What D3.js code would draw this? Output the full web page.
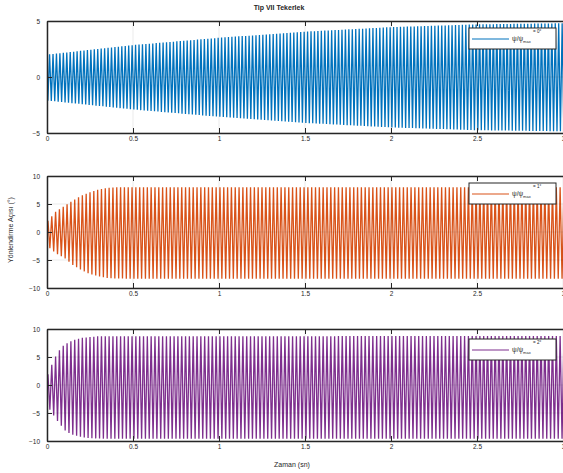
<!DOCTYPE html>
<html lang="tr">
<head>
<meta charset="UTF-8">
<title>Tip VII Tekerlek</title>
<script src="https://cdn.jsdelivr.net/npm/d3@7"></script>
<style>
  body { margin: 0; background: #fff; }
  text { font-family: "Liberation Sans", Arial, sans-serif; fill: #262626; }
</style>
</head>
<body>
<div class="chart"></div>
<script>
    // x axis (time, s)
    const xTicks = [0, 0.5, 1, 1.5, 2, 2.5, 3]
    const xTickLabels = ['0', '0.5', '1', '1.5', '2', '2.5', '3']

    // panel 1: psi0 = 0 deg, envelope
    const envTimes1 = [0, 0.5, 1, 1.5, 2, 2.5, 3]
    const envUpper1 = [2.0, 2.85, 3.5, 4.05, 4.45, 4.7, 4.8]
    const envLower1 = [-2.1, -2.9, -3.55, -4.1, -4.5, -4.75, -4.85]

    // panel 2: psi0 = 1 deg
    const envTimes2 = [0, 0.03, 0.05, 0.1, 0.15, 0.2, 0.25, 0.3, 0.35, 0.4, 0.5, 3]
    const envUpper2 = [1.8, 2.9, 3.6, 4.6, 5.6, 6.5, 7.1, 7.6, 7.85, 8.0, 8.0, 8.0]
    const envLower2 = [-2.5, -3.2, -3.8, -4.6, -5.9, -6.8, -7.5, -7.9, -8.2, -8.3, -8.35, -8.35]

    // panel 3: psi0 = 2 deg
    const envTimes3 = [0, 0.02, 0.04, 0.07, 0.1, 0.15, 0.2, 0.3, 3]
    const envUpper3 = [1.5, 3.0, 4.6, 6.1, 7.2, 8.0, 8.4, 8.7, 8.75]
    const envLowerTimes3 = [0, 0.02, 0.06, 0.11, 0.15, 0.2, 0.25, 0.35, 3]
    const envLower3 = [-3.5, -4.6, -6.4, -8.3, -8.9, -9.3, -9.5, -9.6, -9.6]

    // oscillation frequency (Hz) and which peak comes first
    const freqs = [50, 45, 45]
    const firstSign = [-1, 1, 1]

    const yTicks1 = [-5, 0, 5]
    const yTicks23 = [-10, -5, 0, 5, 10]
    const legendLabels = ['= 0°', '= 1°', '= 2°']
    const colors = ['#0072BD', '#D95319', '#7E2F8E']

    const width = 563
    const height = 473
    const left = 47
    const plotW = 516
    const plotH = 112
    const tops = [21, 176, 329]

    const svg = d3.select('.chart').append('svg')
        .attr('width', width)
        .attr('height', height)

    const xScale = d3.scaleLinear().domain([0, 3]).range([left, left + plotW])

    function buildSeries(i, upTimes, up, lowTimes, low) {
        const upScale = d3.scaleLinear().domain(upTimes).range(up).clamp(true)
        const lowScale = d3.scaleLinear().domain(lowTimes).range(low).clamp(true)
        const half = 1 / (2 * freqs[i])
        const pts = [[0, 0]]
        let sign = firstSign[i]
        for (let t = half / 2; t <= 3 + half; t += half) {
            pts.push([t, sign > 0 ? upScale(t) : lowScale(t)])
            sign = -sign
        }
        return pts
    }

    const panels = [
        { ticks: yTicks1, dom: [-5, 5], data: buildSeries(0, envTimes1, envUpper1, envTimes1, envLower1) },
        { ticks: yTicks23, dom: [-10, 10], data: buildSeries(1, envTimes2, envUpper2, envTimes2, envLower2) },
        { ticks: yTicks23, dom: [-10, 10], data: buildSeries(2, envTimes3, envUpper3, envLowerTimes3, envLower3) }
    ]

    panels.forEach((p, i) => {
        const top = tops[i]
        const yScale = d3.scaleLinear().domain(p.dom).range([top + plotH, top])
        const g = svg.append('g')

        const clipId = 'clip' + i
        g.append('clipPath').attr('id', clipId)
            .append('rect').attr('x', left).attr('y', top).attr('width', plotW).attr('height', plotH)

        const line = d3.line().x(d => xScale(d[0])).y(d => yScale(d[1]))
        g.append('path')
            .datum(p.data)
            .attr('clip-path', `url(#${clipId})`)
            .attr('fill', 'none')
            .attr('stroke', colors[i])
            .attr('stroke-width', 1.3)
            .attr('d', line)

        // grid
        const grid = g.append('g').attr('stroke', '#262626').attr('stroke-opacity', 0.15).attr('stroke-width', 0.6)
        grid.selectAll('.gx').data(xTicks).enter().append('line')
            .attr('x1', d => xScale(d)).attr('x2', d => xScale(d))
            .attr('y1', top).attr('y2', top + plotH)
        grid.selectAll('.gy').data(p.ticks).enter().append('line')
            .attr('x1', left).attr('x2', left + plotW)
            .attr('y1', d => yScale(d)).attr('y2', d => yScale(d))

        // axes
        const xAxis = d3.axisBottom(xScale).tickValues(xTicks)
            .tickFormat((d, k) => xTickLabels[k]).tickSizeInner(-5).tickSizeOuter(0).tickPadding(5)
        const gx = g.append('g').attr('transform', `translate(0,${top + plotH})`).call(xAxis)
        const xTop = d3.axisTop(xScale).tickValues(xTicks).tickFormat('').tickSizeInner(-5).tickSizeOuter(0)
        const gxt = g.append('g').attr('transform', `translate(0,${top})`).call(xTop)
        const yAxis = d3.axisLeft(yScale).tickValues(p.ticks).tickSizeInner(-5).tickSizeOuter(0).tickPadding(7)
        const gy = g.append('g').attr('transform', `translate(${left},0)`).call(yAxis)

        ;[gx, gxt, gy].forEach(a => {
            a.select('.domain').attr('stroke', '#262626').attr('stroke-width', 1.5)
            a.selectAll('.tick line').attr('stroke', '#262626').attr('stroke-width', 1)
            a.selectAll('.tick text').attr('font-size', 6.5).attr('fill', '#404040')
                .style('font-family', '"Liberation Sans", Arial, sans-serif')
        })
        gx.selectAll('.tick text').attr('dy', '0.5em')

        // legend
        const lx = 469, ly = top + [7, 7, 10][i], lw = 87, lh = 21
        const leg = g.append('g')
        leg.append('rect').attr('x', lx).attr('y', ly).attr('width', lw).attr('height', lh)
            .attr('fill', '#fff').attr('stroke', '#262626').attr('stroke-width', 1)
        leg.append('line').attr('x1', lx + 3).attr('x2', lx + 40)
            .attr('y1', ly + 11).attr('y2', ly + 11)
            .attr('stroke', colors[i]).attr('stroke-width', 1.2)
        const txt = leg.append('text').attr('x', lx + 43).attr('y', ly + 13).attr('font-size', 6.5)
        txt.append('tspan').text('ψ/ψ')
        txt.append('tspan').attr('font-size', 4).attr('dy', 1.5).text('max')
        leg.append('text').attr('x', lx + 64).attr('y', ly + 5).attr('font-size', 4.5).text(legendLabels[i])
    })

    svg.append('text').attr('x', 279).attr('y', 10).attr('text-anchor', 'middle')
        .attr('font-size', 7).attr('font-weight', 'bold').text('Tip VII Tekerlek')

    svg.append('text').attr('transform', 'translate(13,230) rotate(-90)').attr('text-anchor', 'middle')
        .attr('font-size', 7).text('Yönlendirme Açısı (°)')

    svg.append('text').attr('x', 292).attr('y', 467).attr('text-anchor', 'middle')
        .attr('font-size', 7).text('Zaman (sn)')
</script>
</body>
</html>
